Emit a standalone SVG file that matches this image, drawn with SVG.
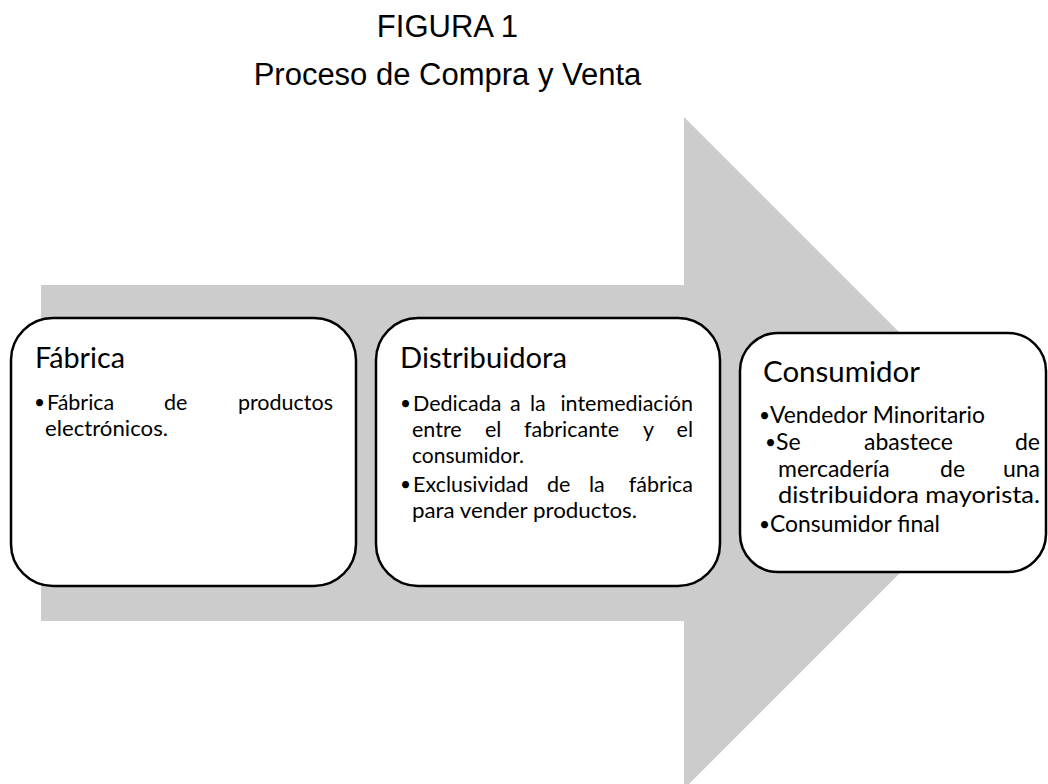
<svg xmlns="http://www.w3.org/2000/svg" width="1048" height="784" viewBox="0 0 1048 784">
<style>
.title{font-family:"Liberation Sans",Arial,sans-serif;font-size:31px;fill:#000;text-anchor:middle}
.box{fill:#fff;stroke:#000;stroke-width:2.5}
.h{font-family:Lato,"Open Sans",sans-serif;font-size:28.5px;fill:#000}
.b{font-family:Lato,"Open Sans",sans-serif;font-size:21.5px;fill:#000}
.b3{font-family:Lato,"Open Sans",sans-serif;font-size:23px;fill:#000}
.bu{font-family:Lato,"Open Sans",sans-serif;font-size:19px;fill:#000}
.e{text-anchor:end}
</style>
<rect width="1048" height="784" fill="#fff"/>
<text class="title" x="447.5" y="37">FIGURA 1</text>
<text class="title" x="447.5" y="85">Proceso de Compra y Venta</text>
<g id="connectors">
<polygon points="41,285 684,285 684,117 1020,453 684,789 684,621 41,621" fill="#cccccc"/>
</g>
<g id="node-fabrica">
<rect class="box" x="11" y="318" width="345" height="268" rx="42" ry="42"/>
<text class="h" x="35" y="368" textLength="90" lengthAdjust="spacingAndGlyphs">Fábrica</text>
<text class="bu" x="34" y="409">•</text>
<text class="b" x="47" y="410">Fábrica</text>
<text class="b" x="164" y="410">de</text>
<text class="b e" x="333" y="410">productos</text>
<text class="b" x="45" y="436" textLength="123" lengthAdjust="spacingAndGlyphs">electrónicos.</text>
</g>
<g id="node-distribuidora">
<rect class="box" x="376" y="318" width="344" height="268" rx="42" ry="42"/>
<text class="h" x="400" y="368" textLength="167" lengthAdjust="spacingAndGlyphs">Distribuidora</text>
<text class="bu" x="400" y="410">•</text>
<text class="b" x="413" y="411">Dedicada</text>
<text class="b" x="510" y="411">a</text>
<text class="b" x="530" y="411">la</text>
<text class="b e" x="693" y="411">intemediación</text>
<text class="b" x="412" y="437">entre</text>
<text class="b" x="485" y="437">el</text>
<text class="b" x="524" y="437">fabricante</text>
<text class="b" x="643" y="437">y</text>
<text class="b e" x="693" y="437">el</text>
<text class="b" x="412" y="463" textLength="112" lengthAdjust="spacingAndGlyphs">consumidor.</text>
<text class="bu" x="400" y="491">•</text>
<text class="b" x="413" y="492">Exclusividad</text>
<text class="b" x="547" y="492">de</text>
<text class="b" x="589" y="492">la</text>
<text class="b e" x="693" y="492">fábrica</text>
<text class="b" x="412" y="518" textLength="225" lengthAdjust="spacingAndGlyphs">para vender productos.</text>
</g>
<g id="node-consumidor">
<rect class="box" x="740" y="333" width="306" height="239" rx="38" ry="38"/>
<text class="h" x="763" y="382" textLength="157" lengthAdjust="spacingAndGlyphs">Consumidor</text>
<text class="bu" x="759" y="422">•</text>
<text class="b3" x="770" y="423" textLength="215" lengthAdjust="spacingAndGlyphs">Vendedor Minoritario</text>
<text class="bu" x="765" y="449">•</text>
<text class="b3" x="776" y="450">Se</text>
<text class="b3" x="864" y="450">abastece</text>
<text class="b3 e" x="1040" y="450">de</text>
<text class="b3" x="778" y="477">mercadería</text>
<text class="b3" x="940" y="477">de</text>
<text class="b3 e" x="1040" y="477">una</text>
<text class="b3" x="778" y="503" textLength="262" lengthAdjust="spacingAndGlyphs">distribuidora mayorista.</text>
<text class="bu" x="759" y="531">•</text>
<text class="b3" x="770" y="532" textLength="170" lengthAdjust="spacingAndGlyphs">Consumidor final</text>
</g>
</svg>
